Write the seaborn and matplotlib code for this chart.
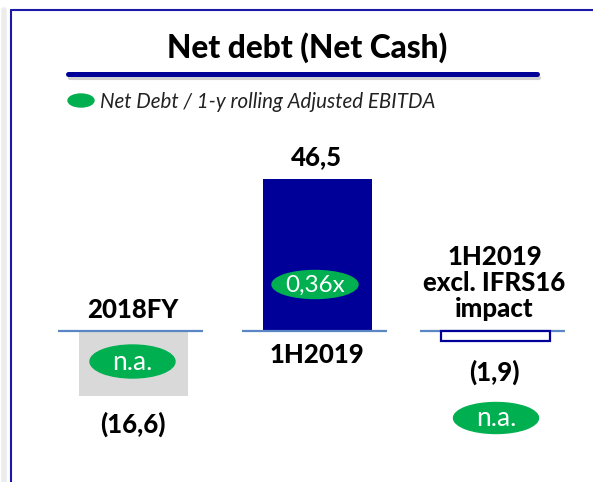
import matplotlib
matplotlib.use("Agg")
import matplotlib.pyplot as plt
from matplotlib.patches import Ellipse
from matplotlib.lines import Line2D
import seaborn as sns

# ---- data ----
categories = ["2018FY", "1H2019", "1H2019\nexcl. IFRS16\nimpact"]
net_debt = [-16.6, 46.5, -1.9]
ratio_labels = ["n.a.", "0,36x", "n.a."]
title = "Net debt (Net Cash)"
legend_label = "Net Debt / 1-y rolling Adjusted EBITDA"

sns.set_style("white")
plt.rcParams["font.family"] = ["Lato", "DejaVu Sans"]
plt.rcParams["text.color"] = "black"

W, H = 593, 482
fig = plt.figure(figsize=(W / 100, H / 100), dpi=100)
fig.patch.set_facecolor("white")

NAVY = "#000099"
GREEN = "#00b050"
GRAY = "#d9d9d9"
BASE = "#5b86c5"
HEAVY = "black"


def fx(x):
    return x / W


def fy(y):
    return 1 - y / H


# frame
fig.add_artist(Line2D([fx(4), fx(4)], [fy(10), 0], color="#ececec", lw=4, transform=fig.transFigure))
fig.add_artist(Line2D([fx(11), fx(11)], [fy(10), 0], color="#1a1aa6", lw=1.5, transform=fig.transFigure))
fig.add_artist(Line2D([fx(11), 1], [fy(10), fy(10)], color="#1a1aa6", lw=1.5, transform=fig.transFigure))

# title + underline
fig.text(fx(307.5), fy(48), title, ha="center", va="center", fontsize=22.8, fontweight=HEAVY, color="black")
fig.add_artist(Line2D([fx(70), fx(539)], [fy(77.5), fy(77.5)], color="#d0d0d0", lw=3, transform=fig.transFigure))
fig.add_artist(Line2D([fx(68), fx(537)], [fy(73.5), fy(73.5)], color=NAVY, lw=3.6, transform=fig.transFigure))

# legend
fig.add_artist(Ellipse((fx(81), fy(100.5)), fx(26), 13 / H, color=GREEN, transform=fig.transFigure))
fig.text(fx(100), fy(102), legend_label, ha="left", va="center", fontsize=14.8, fontstyle="italic", color="#222222")

# columns: each its own chart
base_y = 331
ax_top, ax_bot = 170, 440
col_left = [58, 242, 420]
col_w = 145
px_per_unit = [65 / 16.6, 152 / 46.5, 10 / 1.9]
bar_colors = [GRAY, NAVY, "white"]
edge_colors = [GRAY, NAVY, NAVY]
edge_w = [0, 0, 1.6]
base_z = [5, 5, 0.5]
shift = 3 / col_w

for i, (cat, val) in enumerate(zip(categories, net_debt)):
    ax = fig.add_axes([fx(col_left[i]), fy(ax_bot), col_w / W, (ax_bot - ax_top) / H])
    sns.barplot(x=[cat], y=[val], ax=ax, width=109 / col_w, color=bar_colors[i],
                edgecolor=edge_colors[i], linewidth=edge_w[i], saturation=1)
    s = px_per_unit[i]
    ax.set_ylim(-(ax_bot - base_y) / s, (base_y - ax_top) / s)
    ax.set_xlim(-0.5 - shift, 0.5 - shift)
    ax.axhline(0, color=BASE, lw=1.6, zorder=base_z[i])
    ax.axis("off")

    cx = col_left[i] + col_w / 2
    # value label
    if val >= 0:
        vtxt = f"{val:.1f}".replace(".", ",")
    else:
        vtxt = "(" + f"{-val:.1f}".replace(".", ",") + ")"
    vy = {0: 424, 1: 157.5, 2: 372}[i]
    fig.text(fx(cx + 2), fy(vy), vtxt, ha="center", va="center", fontsize=18.5, fontweight=HEAVY)

    # category label
    cy = {0: 310, 1: 355, 2: 283}[i]
    fig.text(fx(cx + 2), fy(cy), cat, ha="center", va="center", fontsize=18.5, fontweight=HEAVY,
             linespacing=1.12)

    # ratio ellipse
    ex, ey, ew, eh, fs = [(132.5, 361.5, 85, 33, 19), (315, 284.5, 86, 28, 17.5), (496, 418, 85, 31, 19)][i]
    fig.add_artist(Ellipse((fx(ex), fy(ey)), fx(ew), eh / H, color=GREEN, transform=fig.transFigure, zorder=6))
    fig.text(fx(ex), fy(ey + 1), ratio_labels[i], ha="center", va="center", fontsize=fs,
             color="white", zorder=7)

fig.savefig("out.png", dpi=100, facecolor="white")
